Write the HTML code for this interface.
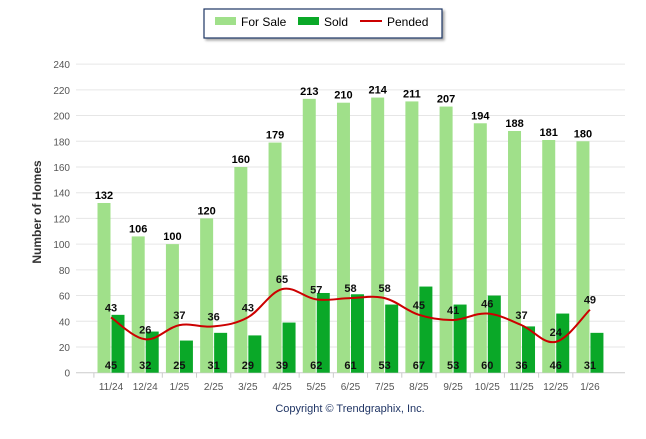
<!DOCTYPE html>
<html><head><meta charset="utf-8">
<style>
body{margin:0;background:#fff;width:646px;height:434px;overflow:hidden;font-family:"Liberation Sans",Arial,sans-serif}
svg text{font-family:"Liberation Sans",Arial,sans-serif}
</style></head>
<body>
<svg id="chart" width="646" height="434">
  <defs><filter id="sh" x="-10%" y="-20%" width="130%" height="160%"><feDropShadow dx="2" dy="2" stdDeviation="1.2" flood-color="#000" flood-opacity="0.35"/></filter></defs>
  <g>
    <rect x="204" y="9" width="238" height="29" fill="#fff" stroke="#1f3464" stroke-width="1.2" filter="url(#sh)"/>
    <rect x="215" y="17" width="21" height="8" fill="#a0e08a"/>
    <text x="241" y="26" font-size="12" fill="#000">For Sale</text>
    <rect x="298" y="17" width="21" height="8" fill="#0aa828"/>
    <text x="324" y="26" font-size="12" fill="#000">Sold</text>
    <line x1="360" y1="21" x2="382" y2="21" stroke="#cc0000" stroke-width="2"/>
    <text x="387" y="26" font-size="12" fill="#000">Pended</text>
  </g>
  <text transform="translate(41,212) rotate(-90)" text-anchor="middle" font-size="12" font-weight="bold" fill="#333">Number of Homes</text>
  <text x="350" y="412" text-anchor="middle" font-size="11" fill="#1f3464">Copyright © Trendgraphix, Inc.</text>
  <g id="grid"></g><g id="bars"></g><g id="line"></g><g id="labels"></g>
</svg>
<script>
const categories=["11/24","12/24","1/25","2/25","3/25","4/25","5/25","6/25","7/25","8/25","9/25","10/25","11/25","12/25","1/26"];
const forSale=[132,106,100,120,160,179,213,210,214,211,207,194,188,181,180];
const sold=[45,32,25,31,29,39,62,61,53,67,53,60,36,46,31];
const pended=[43,26,37,36,43,65,57,58,58,45,41,46,37,24,49];
const yTicks=[0,20,40,60,80,100,120,140,160,180,200,220,240];
const NS="http://www.w3.org/2000/svg";
const y0=372.7,k=1.2857,x0=111,step=34.21,bw=13;
const Y=v=>y0-v*k, X=i=>x0+i*step;
function mk(t,a,p){const e=document.createElementNS(NS,t);for(const q in a)e.setAttribute(q,a[q]);p.appendChild(e);return e;}
const g=document.getElementById('grid'),b=document.getElementById('bars'),l=document.getElementById('line'),lb=document.getElementById('labels');
yTicks.forEach(v=>{
  const ln=mk('line',{x1:76,x2:625,y1:Y(v),y2:Y(v),stroke:v===0?'#ccc':'#e6e6e6','stroke-width':1},g);
  
  
  const t=mk('text',{x:70,y:Y(v)+4,'text-anchor':'end','font-size':10,fill:'#555'},g);t.textContent=v;
  
  
});
categories.forEach((c,i)=>{
  const tk=mk('line',{x1:X(i)-step/2,x2:X(i)-step/2,y1:y0,y2:y0+5,stroke:'#ccc'},g);
  
  
  const t=mk('text',{x:X(i),y:390,'text-anchor':'middle','font-size':10,fill:'#555'},g);t.textContent=c;
  
  
  const r1=mk('rect',{x:X(i)-bw-0.5,y:Y(forSale[i]),width:bw,height:forSale[i]*k,fill:'#a0e08a'},b);
  
  
  const r2=mk('rect',{x:X(i)+0.5,y:Y(sold[i]),width:bw,height:sold[i]*k,fill:'#0aa828'},b);
  
  
  const t1=mk('text',{x:X(i)-7,y:Y(forSale[i])-4,'text-anchor':'middle','font-size':11,'font-weight':'bold',fill:'#000'},lb);t1.textContent=forSale[i];
  
  
  const t2=mk('text',{x:X(i),y:369,'text-anchor':'middle','font-size':11,'font-weight':'bold',fill:'#111'},lb);t2.textContent=sold[i];
  
  
  const t3=mk('text',{x:X(i),y:Y(pended[i])-6,'text-anchor':'middle','font-size':11,'font-weight':'bold',fill:'#111'},lb);t3.textContent=pended[i];
  
  
});
const pts=pended.map((v,i)=>[X(i),Y(v)]);
let d='M'+pts[0][0]+','+pts[0][1];
for(let i=0;i<pts.length-1;i++){
  const p0=pts[i-1]||pts[i],p1=pts[i],p2=pts[i+1],p3=pts[i+2]||p2,s=0.18;
  d+=' C'+(p1[0]+(p2[0]-p0[0])*s)+','+(p1[1]+(p2[1]-p0[1])*s)+' '+(p2[0]-(p3[0]-p1[0])*s)+','+(p2[1]-(p3[1]-p1[1])*s)+' '+p2[0]+','+p2[1];
}
const path=mk('path',{d:d,fill:'none',stroke:'#cc0000','stroke-width':2},l);


</script>
</body></html>
